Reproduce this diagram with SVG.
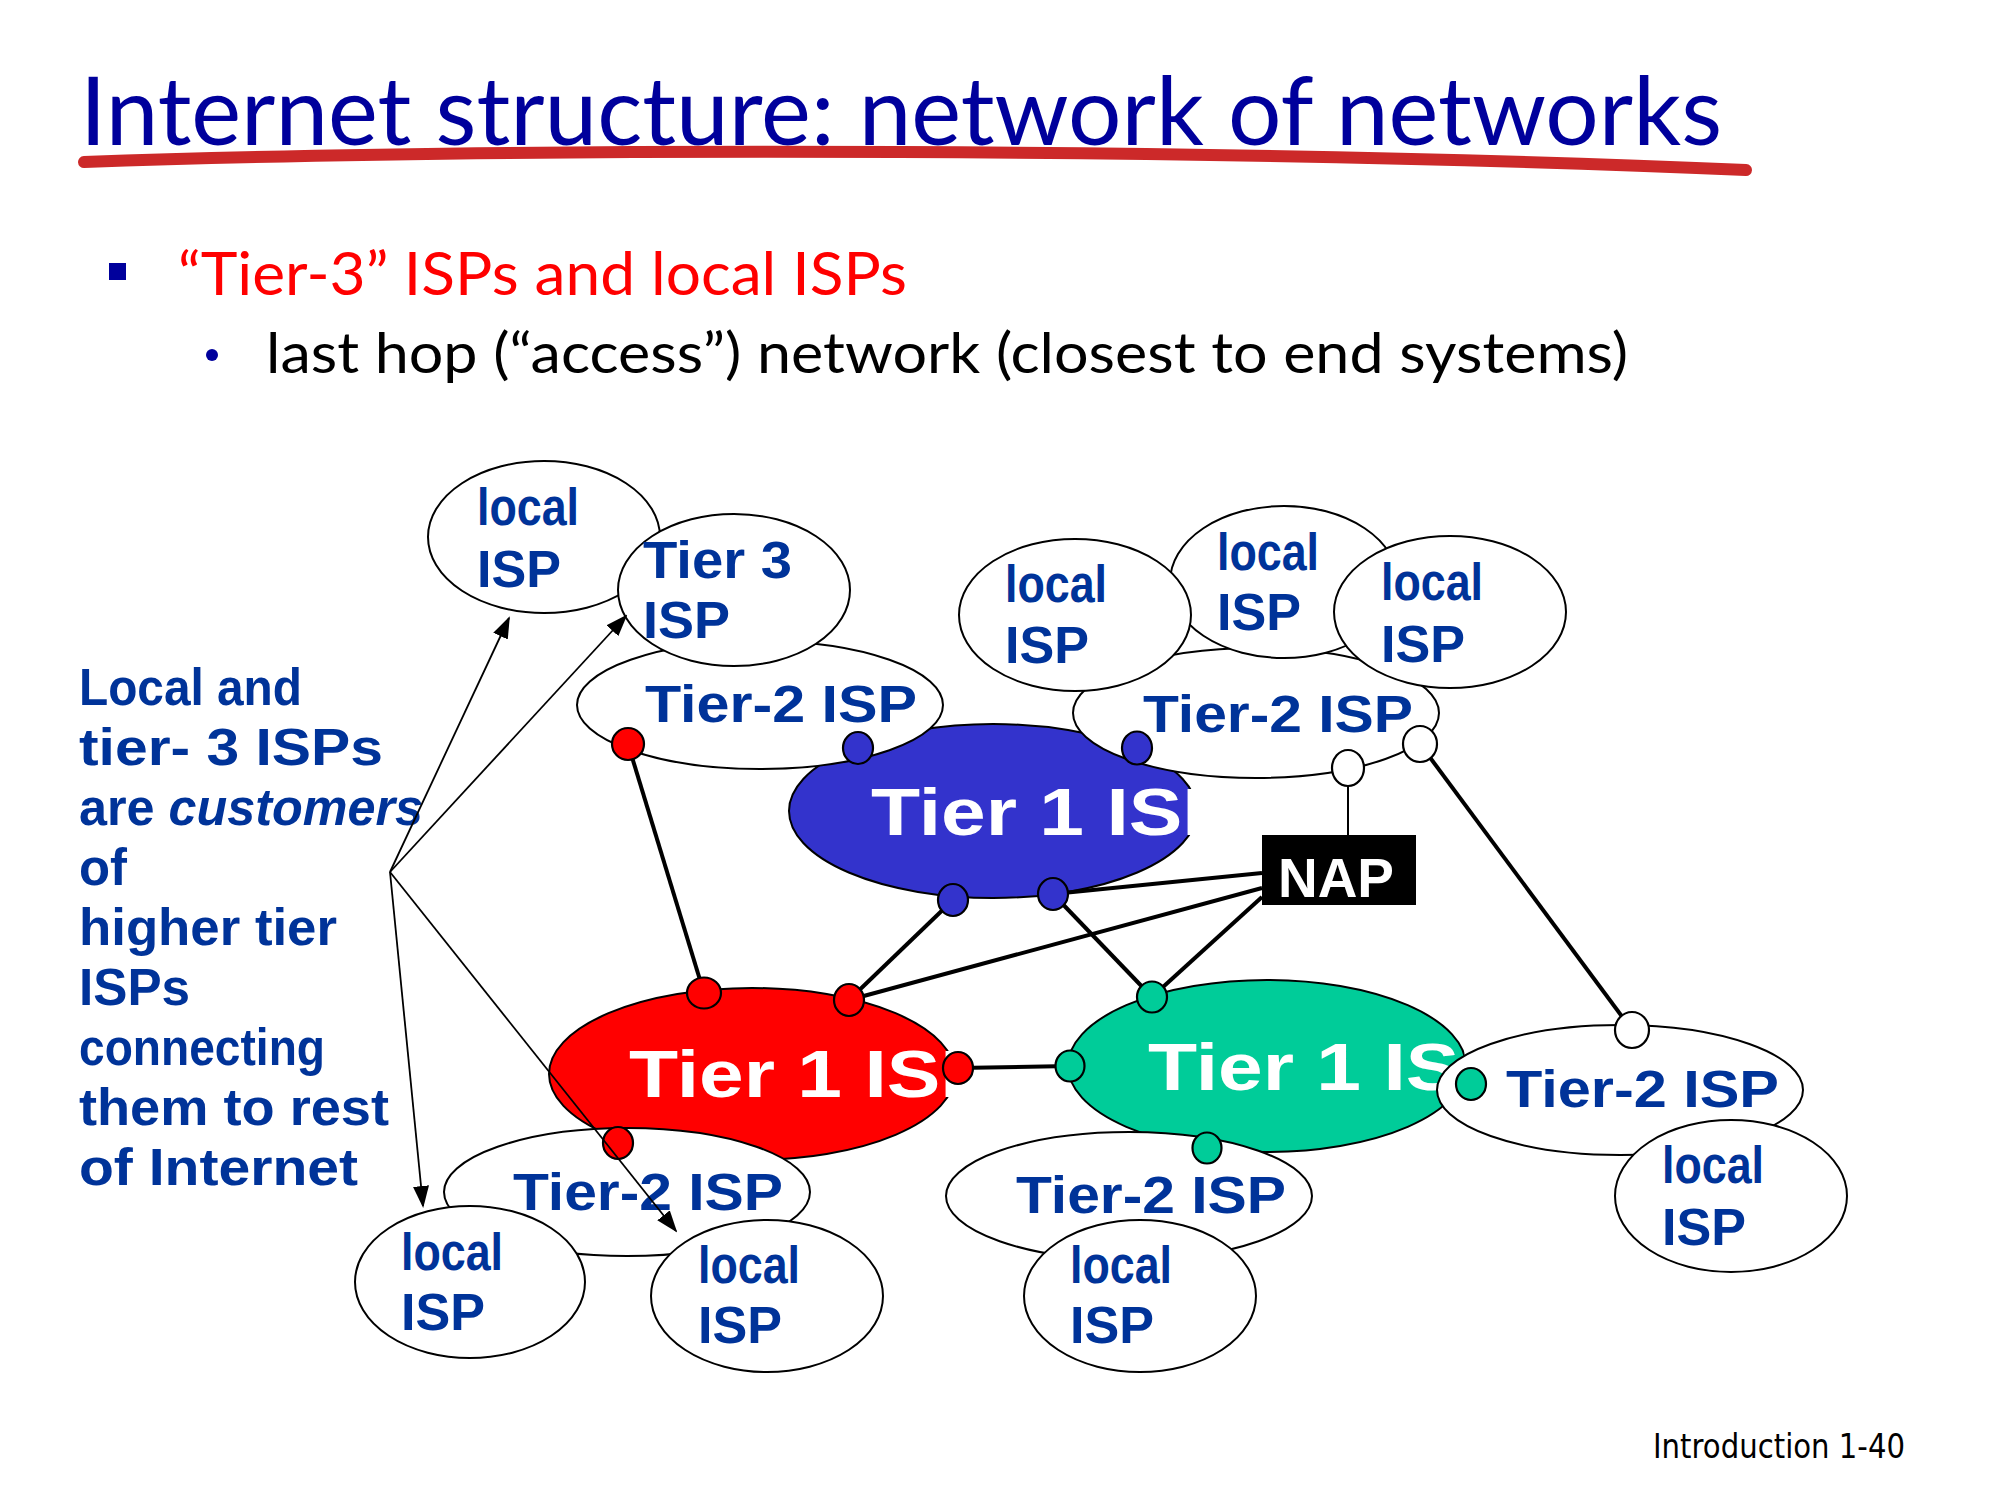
<svg xmlns="http://www.w3.org/2000/svg" width="2000" height="1500" viewBox="0 0 2000 1500">
  <defs>
    <style>
      .title { font-family: "Lato", "Liberation Sans", sans-serif; font-size: 95px; fill: #00009C; }
      .b1 { font-family: "Lato", "Liberation Sans", sans-serif; font-size: 60px; fill: #FF0000; }
      .b2 { font-family: "Lato", "Liberation Sans", sans-serif; font-size: 56px; fill: #000; }
      .foot { font-family: "DejaVu Sans", "Liberation Sans", sans-serif; font-size: 34px; fill: #000; }
      .note { font-family: "Liberation Sans", Arial, sans-serif; font-weight: bold; font-size: 52px; fill: #003399; }
      .lbl { font-family: "Liberation Sans", Arial, sans-serif; font-weight: bold; font-size: 51px; fill: #003399; }
      .t1 { font-family: "Liberation Sans", Arial, sans-serif; font-weight: bold; font-size: 66px; fill: #FFFFFF; }
      .nap { font-family: "Liberation Sans", Arial, sans-serif; font-weight: bold; font-size: 56px; fill: #FFFFFF; }
      .node { stroke: #000; stroke-width: 2; }
      .white { fill: #FFFFFF; }
      .link { stroke: #000; stroke-width: 4; fill: none; }
      .thin { stroke: #000; stroke-width: 2; fill: none; }
      .port { stroke: #000; stroke-width: 2.2; }
      .ptr { stroke: #000; stroke-width: 1.8; fill: none; marker-end: url(#ah); }
    </style>
    <marker id="ah" markerUnits="userSpaceOnUse" markerWidth="22" markerHeight="16" refX="20" refY="8" orient="auto">
      <path d="M0,0 L22,8 L0,16 z" fill="#000"/>
    </marker>
  </defs>

  <rect width="2000" height="1500" fill="#FFFFFF"/>

  <!-- heading -->
  <g id="heading">
    <text class="title" x="80" y="145" textLength="1642" lengthAdjust="spacingAndGlyphs">Internet structure: network of networks</text>
    <path d="M84 162 Q 420 150 900 152 T 1746 170" stroke="#CC2929" stroke-width="12" stroke-linecap="round" fill="none"/>
    <rect x="109" y="263" width="17" height="17" fill="#00009C"/>
    <text class="b1" x="178" y="295" textLength="729" lengthAdjust="spacingAndGlyphs">“Tier-3” ISPs and local ISPs</text>
    <circle cx="212" cy="355" r="6" fill="#00009C"/>
    <text class="b2" x="266" y="373" textLength="1362" lengthAdjust="spacingAndGlyphs">last hop (“access”) network (closest to end systems)</text>
  </g>

  <!-- side note -->
  <g id="note">
    <text class="note" x="79" y="705" textLength="223" lengthAdjust="spacingAndGlyphs">Local and</text>
    <text class="note" x="79" y="765" textLength="304" lengthAdjust="spacingAndGlyphs">tier- 3 ISPs</text>
    <text class="note" x="79" y="825" textLength="344" lengthAdjust="spacingAndGlyphs">are <tspan font-style="italic">customers</tspan></text>
    <text class="note" x="79" y="885" textLength="48" lengthAdjust="spacingAndGlyphs">of</text>
    <text class="note" x="79" y="945" textLength="258" lengthAdjust="spacingAndGlyphs">higher tier</text>
    <text class="note" x="79" y="1005" textLength="111" lengthAdjust="spacingAndGlyphs">ISPs</text>
    <text class="note" x="79" y="1065" textLength="246" lengthAdjust="spacingAndGlyphs">connecting</text>
    <text class="note" x="79" y="1125" textLength="310" lengthAdjust="spacingAndGlyphs">them to rest</text>
    <text class="note" x="79" y="1185" textLength="279" lengthAdjust="spacingAndGlyphs">of Internet</text>
  </g>

  <!-- tier 1 backbones -->
  <g id="tier1-blue">
    <ellipse class="node" cx="993" cy="811" rx="204" ry="87" fill="#3333CC"/>
    <text class="t1" x="871" y="835" textLength="365" lengthAdjust="spacingAndGlyphs">Tier 1 ISP</text>
  </g>
  <g id="tier1-red">
    <ellipse class="node" cx="752" cy="1074" rx="203" ry="86" fill="#FF0000"/>
    <text class="t1" x="629" y="1097" textLength="365" lengthAdjust="spacingAndGlyphs">Tier 1 ISP</text>
  </g>
  <g id="tier1-green">
    <ellipse class="node" cx="1267" cy="1066" rx="199" ry="86" fill="#00CC99"/>
    <text class="t1" x="1148" y="1090" textLength="365" lengthAdjust="spacingAndGlyphs">Tier 1 ISP</text>
  </g>

  <!-- upper left cluster -->
  <g id="tier2-top-left">
    <ellipse class="node white" cx="760" cy="705" rx="183" ry="64"/>
    <text class="lbl" x="645" y="722" textLength="272" lengthAdjust="spacingAndGlyphs">Tier-2 ISP</text>
  </g>
  <g id="local-top-left">
    <ellipse class="node white" cx="544" cy="537" rx="116" ry="76"/>
    <text class="lbl" x="477" y="525" textLength="102" lengthAdjust="spacingAndGlyphs">local</text>
    <text class="lbl" x="477" y="587" textLength="84" lengthAdjust="spacingAndGlyphs">ISP</text>
  </g>
  <g id="tier3">
    <ellipse class="node white" cx="734" cy="590" rx="116" ry="76"/>
    <text class="lbl" x="643" y="578" textLength="149" lengthAdjust="spacingAndGlyphs">Tier 3</text>
    <text class="lbl" x="643" y="638" textLength="87" lengthAdjust="spacingAndGlyphs">ISP</text>
  </g>

  <!-- upper right cluster -->
  <g id="tier2-top-right">
    <ellipse class="node white" cx="1256" cy="713" rx="183" ry="65"/>
    <text class="lbl" x="1143" y="732" textLength="270" lengthAdjust="spacingAndGlyphs">Tier-2 ISP</text>
  </g>
  <g id="local-top-mid">
    <ellipse class="node white" cx="1284" cy="582" rx="114" ry="76"/>
    <text class="lbl" x="1217" y="570" textLength="102" lengthAdjust="spacingAndGlyphs">local</text>
    <text class="lbl" x="1217" y="630" textLength="84" lengthAdjust="spacingAndGlyphs">ISP</text>
  </g>
  <g id="local-top-a">
    <ellipse class="node white" cx="1075" cy="615" rx="116" ry="76"/>
    <text class="lbl" x="1005" y="602" textLength="102" lengthAdjust="spacingAndGlyphs">local</text>
    <text class="lbl" x="1005" y="663" textLength="84" lengthAdjust="spacingAndGlyphs">ISP</text>
  </g>
  <g id="local-top-c">
    <ellipse class="node white" cx="1450" cy="612" rx="116" ry="76"/>
    <text class="lbl" x="1381" y="600" textLength="102" lengthAdjust="spacingAndGlyphs">local</text>
    <text class="lbl" x="1381" y="662" textLength="84" lengthAdjust="spacingAndGlyphs">ISP</text>
  </g>

  <!-- lower left cluster -->
  <g id="tier2-bottom-left">
    <ellipse class="node white" cx="627" cy="1192" rx="183" ry="64"/>
    <text class="lbl" x="513" y="1210" textLength="270" lengthAdjust="spacingAndGlyphs">Tier-2 ISP</text>
  </g>
  <g id="local-bottom-1">
    <ellipse class="node white" cx="470" cy="1282" rx="115" ry="76"/>
    <text class="lbl" x="401" y="1270" textLength="102" lengthAdjust="spacingAndGlyphs">local</text>
    <text class="lbl" x="401" y="1330" textLength="84" lengthAdjust="spacingAndGlyphs">ISP</text>
  </g>
  <g id="local-bottom-2">
    <ellipse class="node white" cx="767" cy="1296" rx="116" ry="76"/>
    <text class="lbl" x="698" y="1283" textLength="102" lengthAdjust="spacingAndGlyphs">local</text>
    <text class="lbl" x="698" y="1343" textLength="84" lengthAdjust="spacingAndGlyphs">ISP</text>
  </g>

  <!-- lower middle cluster -->
  <g id="tier2-bottom-mid">
    <ellipse class="node white" cx="1129" cy="1196" rx="183" ry="64"/>
    <text class="lbl" x="1016" y="1213" textLength="270" lengthAdjust="spacingAndGlyphs">Tier-2 ISP</text>
  </g>
  <g id="local-bottom-3">
    <ellipse class="node white" cx="1140" cy="1296" rx="116" ry="76"/>
    <text class="lbl" x="1070" y="1283" textLength="102" lengthAdjust="spacingAndGlyphs">local</text>
    <text class="lbl" x="1070" y="1343" textLength="84" lengthAdjust="spacingAndGlyphs">ISP</text>
  </g>

  <!-- lower right cluster -->
  <g id="tier2-bottom-right">
    <ellipse class="node white" cx="1620" cy="1090" rx="183" ry="65"/>
    <text class="lbl" x="1506" y="1107" textLength="273" lengthAdjust="spacingAndGlyphs">Tier-2 ISP</text>
  </g>
  <g id="local-bottom-right">
    <ellipse class="node white" cx="1731" cy="1196" rx="116" ry="76"/>
    <text class="lbl" x="1662" y="1183" textLength="102" lengthAdjust="spacingAndGlyphs">local</text>
    <text class="lbl" x="1662" y="1245" textLength="84" lengthAdjust="spacingAndGlyphs">ISP</text>
  </g>

  <!-- exchange point -->
  <g id="nap">
    <rect x="1262" y="835" width="154" height="70" fill="#000"/>
    <text class="nap" x="1278" y="897" textLength="116" lengthAdjust="spacingAndGlyphs">NAP</text>
  </g>

  <!-- links between providers -->
  <g id="connectors">
    <line class="link" x1="628" y1="744" x2="704" y2="993"/>
    <line class="link" x1="953" y1="900" x2="849" y2="1000"/>
    <line class="link" x1="849" y1="1000" x2="1262" y2="888"/>
    <line class="link" x1="1053" y1="894" x2="1262" y2="873"/>
    <line class="link" x1="1053" y1="894" x2="1152" y2="997"/>
    <line class="link" x1="1262" y1="897" x2="1152" y2="997"/>
    <line class="link" x1="958" y1="1068" x2="1070" y2="1066"/>
    <line class="link" x1="1420" y1="744" x2="1632" y2="1030"/>
    <line class="thin" x1="1348" y1="835" x2="1348" y2="768"/>
  </g>

  <!-- attachment points -->
  <g id="ports">
    <ellipse class="port" cx="628" cy="744" rx="16" ry="16" fill="#FF0000"/>
    <ellipse class="port" cx="858" cy="748" rx="15" ry="16" fill="#3333CC"/>
    <ellipse class="port" cx="1137" cy="748" rx="15" ry="16.5" fill="#3333CC"/>
    <ellipse class="port" cx="1348" cy="768" rx="16" ry="18" fill="#FFFFFF"/>
    <ellipse class="port" cx="1420" cy="744" rx="17" ry="18" fill="#FFFFFF"/>
    <ellipse class="port" cx="953" cy="900" rx="15" ry="16" fill="#3333CC"/>
    <ellipse class="port" cx="1053" cy="894" rx="15" ry="16" fill="#3333CC"/>
    <ellipse class="port" cx="704" cy="993" rx="17" ry="15.5" fill="#FF0000"/>
    <ellipse class="port" cx="849" cy="1000" rx="15" ry="16" fill="#FF0000"/>
    <ellipse class="port" cx="958" cy="1068" rx="15" ry="16" fill="#FF0000"/>
    <ellipse class="port" cx="618" cy="1143" rx="15" ry="16" fill="#FF0000"/>
    <ellipse class="port" cx="1152" cy="997" rx="15" ry="15.5" fill="#00CC99"/>
    <ellipse class="port" cx="1070" cy="1066" rx="14.5" ry="15.5" fill="#00CC99"/>
    <ellipse class="port" cx="1207" cy="1148" rx="14.5" ry="15.5" fill="#00CC99"/>
    <ellipse class="port" cx="1471" cy="1084" rx="15" ry="16" fill="#00CC99"/>
    <ellipse class="port" cx="1632" cy="1030" rx="17" ry="18" fill="#FFFFFF"/>
  </g>

  <!-- pointers from the note -->
  <g id="pointers">
    <line class="ptr" x1="390" y1="872" x2="509" y2="618"/>
    <line class="ptr" x1="390" y1="872" x2="626" y2="616"/>
    <line class="ptr" x1="390" y1="872" x2="423" y2="1206"/>
    <line class="ptr" x1="390" y1="872" x2="676" y2="1231"/>
  </g>

  <text class="foot" x="1653" y="1458" textLength="252" lengthAdjust="spacingAndGlyphs">Introduction 1-40</text>
</svg>
